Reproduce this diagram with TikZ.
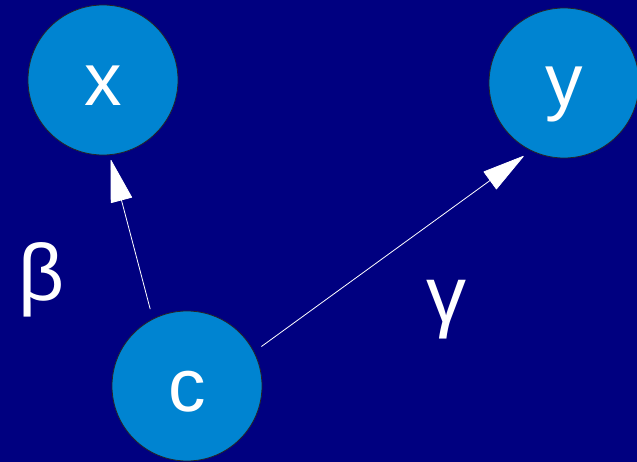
\documentclass[tikz,border=0pt]{standalone}
\usepackage{fontspec}
\setmainfont{Liberation Sans}
\usetikzlibrary{arrows.meta}
\definecolor{bgnavy}{RGB}{0,0,128}
\definecolor{circblue}{RGB}{0,132,209}
\tikzset{
  circ/.style={circle, fill=circblue, draw=black!85, line width=0.8pt, minimum size=150pt, inner sep=0pt},
  lbl/.style={text=white, font=\fontsize{75pt}{90pt}\selectfont, inner sep=0pt, anchor=base},
  glbl/.style={lbl, font=\fontsize{80pt}{96pt}\selectfont},
  arr/.style={draw=white, line width=0.8pt, -{Triangle[length=43pt,width=22pt,round]}},
}
\begin{document}
\begin{tikzpicture}[x=1pt,y=-1pt]
\fill[bgnavy] (0,0) rectangle (637,462);
\useasboundingbox (0,0) rectangle (637,462);
\node[circ] (x) at (103,80) {};
\node[circ] (y) at (564,83) {};
\node[circ] (c) at (187,386) {};
\node[lbl] (xt) at ([yshift=-26pt]x.center) {x};
\node[lbl] (yt) at ([yshift=-24pt]y.center) {y};
\node[lbl] (ct) at ([yshift=-25pt]c.center) {c};
\node[glbl] (beta) at (42,301) {β};
\node[glbl] (gamma) at (446,322) {γ};
\draw[arr, shorten <=10pt, shorten >=5pt] (c.117) -- (x.275);
\draw[arr, shorten <=9pt, shorten >=9pt] (c.27) -- (y.244);
\end{tikzpicture}
\end{document}
